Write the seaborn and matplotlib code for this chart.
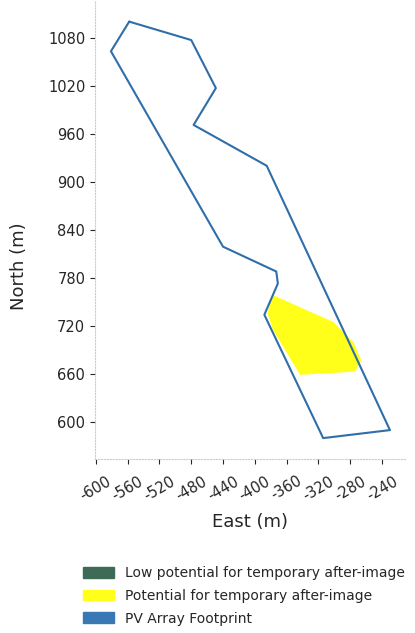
import matplotlib
matplotlib.use("Agg")
import matplotlib.pyplot as plt
import matplotlib.patches as mpatches
import seaborn as sns
import pandas as pd

# PV array footprint outline (East, North in m)
footprint_east = [-558, -480, -449, -477, -385, -230, -314, -388, -371, -373, -440, -581, -558]
footprint_north = [1100, 1077, 1017, 971, 920, 590, 580, 734, 773, 788, 819, 1063, 1100]

# area with potential for temporary after-image
glare_east = [-378, -340, -301, -276, -266, -274, -343, -377, -384]
glare_north = [759, 742, 725, 700, 677, 663, 659, 715, 736]

x_ticks = [-600, -560, -520, -480, -440, -400, -360, -320, -280, -240]
y_ticks = [600, 660, 720, 780, 840, 900, 960, 1020, 1080]

legend_labels = ["Low potential for temporary after-image",
                 "Potential for temporary after-image",
                 "PV Array Footprint"]
legend_colors = ["#3d6b55", "#ffff1a", "#3a78b5"]

sns.set_style("ticks")
plt.rcParams['font.family'] = ['DejaVu Sans']

fig = plt.figure(figsize=(4.15, 6.33), dpi=100)
ax = fig.add_axes([0.229, 0.275, 0.747, 0.725])

df = pd.DataFrame({"East": footprint_east, "North": footprint_north})
ax.fill(glare_east, glare_north, color="#ffff1a", lw=0, zorder=1)
sns.lineplot(data=df, x="East", y="North", sort=False, estimator=None,
             color="#2f6ea8", lw=1.5, ax=ax, zorder=2)

ax.set_xlim(-601, -211)
ax.set_ylim(554, 1127)
ax.set_xticks(x_ticks)
ax.set_yticks(y_ticks)
ax.set_xticklabels([str(t) for t in x_ticks], rotation=30, ha="center", fontsize=10.5)
ax.tick_params(axis="y", labelsize=10.5)
ax.tick_params(axis="x", pad=7)
ax.set_xlabel("East (m)", fontsize=13, labelpad=7)
ax.set_ylabel("North (m)", fontsize=13)
ax.yaxis.set_label_coords(-0.215, 0.42)

for side in ["top", "right"]:
    ax.spines[side].set_visible(False)
for side in ["left", "bottom"]:
    ax.spines[side].set_color("#cccccc")
    ax.spines[side].set_linestyle(":")

handles = [mpatches.Patch(color=c, label=l) for c, l in zip(legend_colors, legend_labels)]
fig.legend(handles=handles, loc="upper left", bbox_to_anchor=(0.17, 0.125),
           frameon=False, fontsize=10, handlelength=2.2, handleheight=0.8,
           labelspacing=0.62, handletextpad=0.8)

fig.savefig("out.png", dpi=100)
